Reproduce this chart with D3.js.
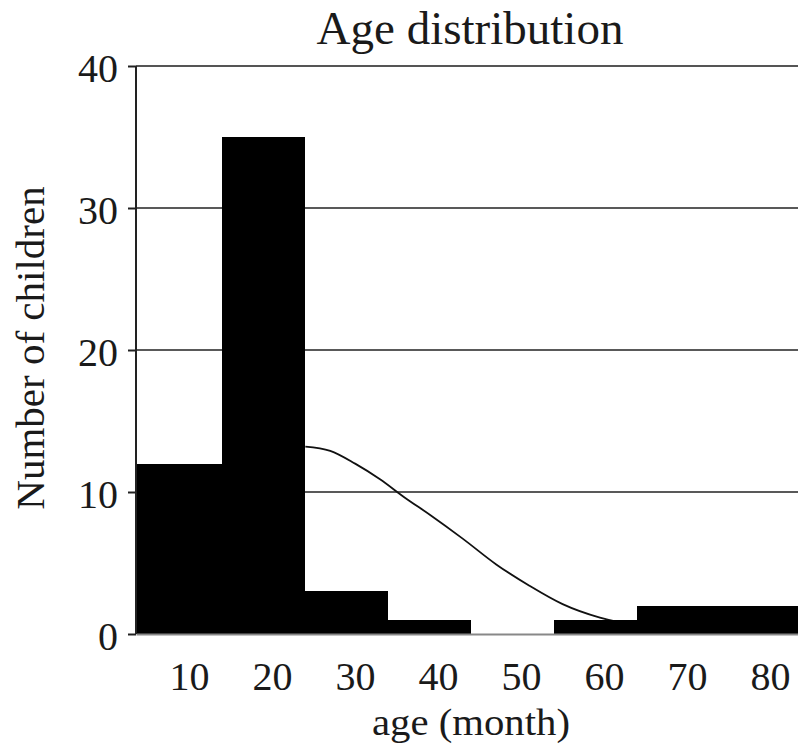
<!DOCTYPE html>
<html>
<head>
<meta charset="utf-8">
<script src="https://cdn.jsdelivr.net/npm/d3@7"></script>
<style>
  html, body { margin: 0; padding: 0; background: #fff; }
  svg { display: block; }
  text { font-family: "Liberation Serif", "Times New Roman", serif; fill: #1a1a1a; }
</style>
</head>
<body>
<svg id="chart" width="798" height="746"></svg>
<script>
// ---- data ----
const binEdges = [3.6, 14, 24, 34, 44, 54, 64, 74, 84]; // months (first bin starts at the axis)
const counts = [12, 35, 3, 1, 0, 1, 2, 2];
const xTicks = [10, 20, 30, 40, 50, 60, 70, 80];
const yTicks = [0, 10, 20, 30, 40];
const curveAges = [24, 27, 30, 33, 36, 39, 43, 47, 51, 55, 59.5, 62];
const curveValues = [13.2, 12.9, 12.0, 10.9, 9.6, 8.4, 6.7, 4.9, 3.4, 2.1, 1.15, 0.8];

const svg = d3.select("#chart");
const W = 798, H = 746;
const margin = { left: 136, top: 66, bottom: 112 };

const x = d3.scaleLinear().domain([3.6, 83.36]).range([margin.left, W]);
const y = d3.scaleLinear().domain([0, 40]).range([H - margin.bottom, margin.top]);

// gridlines
svg.append("g")
  .selectAll("line")
  .data(yTicks.filter(d => d > 0))
  .join("line")
  .attr("x1", margin.left).attr("x2", W)
  .attr("y1", d => y(d)).attr("y2", d => y(d))
  .attr("stroke", d => d === 40 ? "#555" : "#222")
  .attr("stroke-width", d => d === 40 ? 2 : 1.5);

// normal curve (drawn under the bars)
const pts = curveAges.map((a, i) => [a, curveValues[i]]);
svg.append("path")
  .datum(pts)
  .attr("fill", "none")
  .attr("stroke", "#111")
  .attr("stroke-width", 1.8)
  .attr("d", d3.line().x(d => x(d[0])).y(d => y(d[1])).curve(d3.curveMonotoneX));

// bars
svg.append("g")
  .attr("shape-rendering", "crispEdges")
  .selectAll("rect")
  .data(counts.map((c, i) => ({ x0: binEdges[i], x1: binEdges[i + 1], c })))
  .join("rect")
  .attr("x", d => x(d.x0))
  .attr("width", d => x(d.x1) - x(d.x0))
  .attr("y", d => y(d.c))
  .attr("height", d => y(0) - y(d.c))
  .attr("fill", "#000");

// x axis (baseline + labels, no tick marks)
const xAxis = d3.axisBottom(x).tickValues(xTicks).tickSize(0).tickPadding(28).tickFormat(d3.format("d"));
const gx = svg.append("g").attr("transform", `translate(0,${y(0)})`).call(xAxis);
gx.select(".domain").attr("stroke", "#888").attr("stroke-width", 2);
gx.selectAll("text").attr("font-size", 40).attr("dy", "0.71em")
  .style("font-family", '"Liberation Serif", serif').attr("fill", "#1a1a1a");

// y axis
const yAxis = d3.axisLeft(y).tickValues(yTicks).tickSize(8).tickPadding(10).tickFormat(d3.format("d"));
const gy = svg.append("g").attr("transform", `translate(${margin.left},0)`).call(yAxis);
gy.select(".domain").attr("stroke", "#222").attr("stroke-width", 2).attr("d", `M0,${y(40)}V${y(0)}`);
gy.selectAll(".tick line").attr("stroke", "#222").attr("stroke-width", 2);
gy.selectAll("text").attr("font-size", 40).attr("dy", "0.38em")
  .style("font-family", '"Liberation Serif", serif').attr("fill", "#1a1a1a");

// titles
svg.append("text")
  .attr("x", 470).attr("y", 44)
  .attr("text-anchor", "middle")
  .attr("font-size", 47)
  .text("Age distribution");

svg.append("text")
  .attr("x", 471).attr("y", 735)
  .attr("text-anchor", "middle")
  .attr("font-size", 37)
  .attr("textLength", 198)
  .attr("lengthAdjust", "spacingAndGlyphs")
  .text("age (month)");

svg.append("text")
  .attr("transform", "translate(44,348) rotate(-90)")
  .attr("text-anchor", "middle")
  .attr("font-size", 41)
  .text("Number of children");
</script>
</body>
</html>
